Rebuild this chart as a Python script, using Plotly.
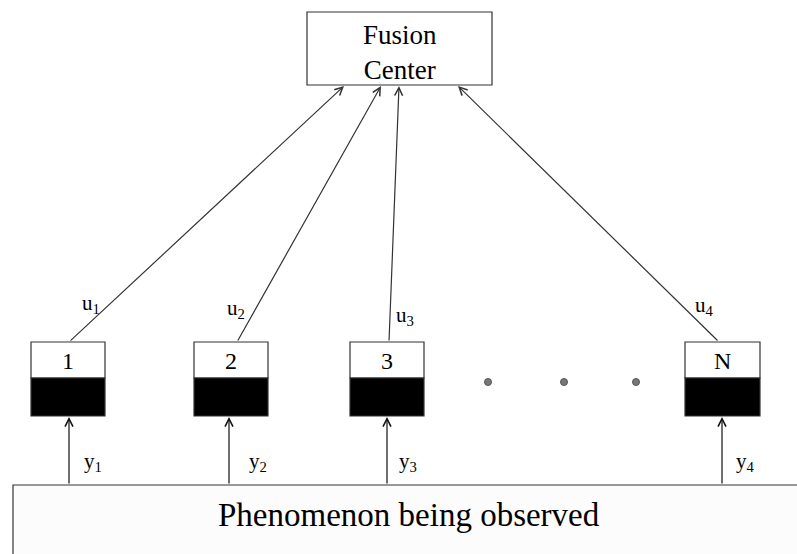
import plotly.graph_objects as go

# node data (pixel-space coordinates of the diagram)
sensor_labels = ['1', '2', '3', 'N']
sensor_left = [31, 194, 350, 685]
sensor_right = [105, 268, 424, 760]
link_start_x = [69, 237, 389, 719]
link_end_x = [344, 381, 399, 458]
obs_x = [69, 229, 387, 722]
u_labels = ['u<sub>1</sub>', 'u<sub>2</sub>', 'u<sub>3</sub>', 'u<sub>4</sub>']
u_pos = [(91, 304), (236, 309), (405, 316), (704, 306)]
y_labels = ['y<sub>1</sub>', 'y<sub>2</sub>', 'y<sub>3</sub>', 'y<sub>4</sub>']
y_pos = [(93, 462), (258, 462), (408, 462), (745, 462)]
dots_x = [488, 564, 636]

FONT = 'Liberation Serif'
LINE = '#333333'

fig = go.Figure()

# ellipsis dots between sensor 3 and N
fig.add_scatter(x=dots_x, y=[382] * len(dots_x), mode='markers',
                marker=dict(size=7, color='#777777', line=dict(width=1, color='#555555')),
                showlegend=False, hoverinfo='skip')

shapes = []
annotations = []

# fusion center
shapes.append(dict(type='rect', x0=307, x1=492, y0=12, y1=85,
                   line=dict(color=LINE, width=1.2), fillcolor='white'))
annotations.append(dict(x=400, y=52, text='Fusion<br>Center', showarrow=False,
                        font=dict(family=FONT, size=27, color='black')))

# phenomenon box
shapes.append(dict(type='rect', x0=13, x1=805, y0=485, y1=570,
                   line=dict(color=LINE, width=1.2), fillcolor='#fcfcfc'))
annotations.append(dict(x=409, y=515, text='Phenomenon being observed', showarrow=False,
                        font=dict(family=FONT, size=33, color='black')))

for i, lab in enumerate(sensor_labels):
    l, r = sensor_left[i], sensor_right[i]
    shapes.append(dict(type='rect', x0=l, x1=r, y0=342, y1=378,
                       line=dict(color=LINE, width=1.2), fillcolor='white'))
    shapes.append(dict(type='rect', x0=l, x1=r, y0=378, y1=416,
                       line=dict(color=LINE, width=1.2), fillcolor='black'))
    annotations.append(dict(x=(l + r) / 2, y=361, text=lab, showarrow=False,
                            font=dict(family=FONT, size=24, color='black')))
    # sensor -> fusion center
    annotations.append(dict(x=link_end_x[i], y=86, ax=link_start_x[i], ay=342,
                            xref='x', yref='y', axref='x', ayref='y', text='',
                            showarrow=True, arrowhead=5, arrowsize=1.3,
                            arrowwidth=1.2, arrowcolor=LINE, standoff=0))
    # phenomenon -> sensor
    annotations.append(dict(x=obs_x[i], y=417, ax=obs_x[i], ay=485,
                            xref='x', yref='y', axref='x', ayref='y', text='',
                            showarrow=True, arrowhead=5, arrowsize=1.3,
                            arrowwidth=1.2, arrowcolor='#111111', standoff=0))
    annotations.append(dict(x=u_pos[i][0], y=u_pos[i][1], text=u_labels[i], showarrow=False,
                            font=dict(family=FONT, size=21, color='black')))
    annotations.append(dict(x=y_pos[i][0], y=y_pos[i][1], text=y_labels[i], showarrow=False,
                            font=dict(family=FONT, size=21, color='black')))

fig.update_layout(width=797, height=554,
                  margin=dict(l=0, r=0, t=0, b=0),
                  paper_bgcolor='white', plot_bgcolor='white',
                  xaxis=dict(range=[0, 797], visible=False, fixedrange=True),
                  yaxis=dict(range=[554, 0], visible=False, fixedrange=True),
                  shapes=shapes, annotations=annotations, showlegend=False)

# drop the default page margin so the figure sits at the window origin
fig.write_html("out.html", config={'displayModeBar': False},
               post_script="document.body.style.margin='0';document.body.style.overflow='hidden';")
